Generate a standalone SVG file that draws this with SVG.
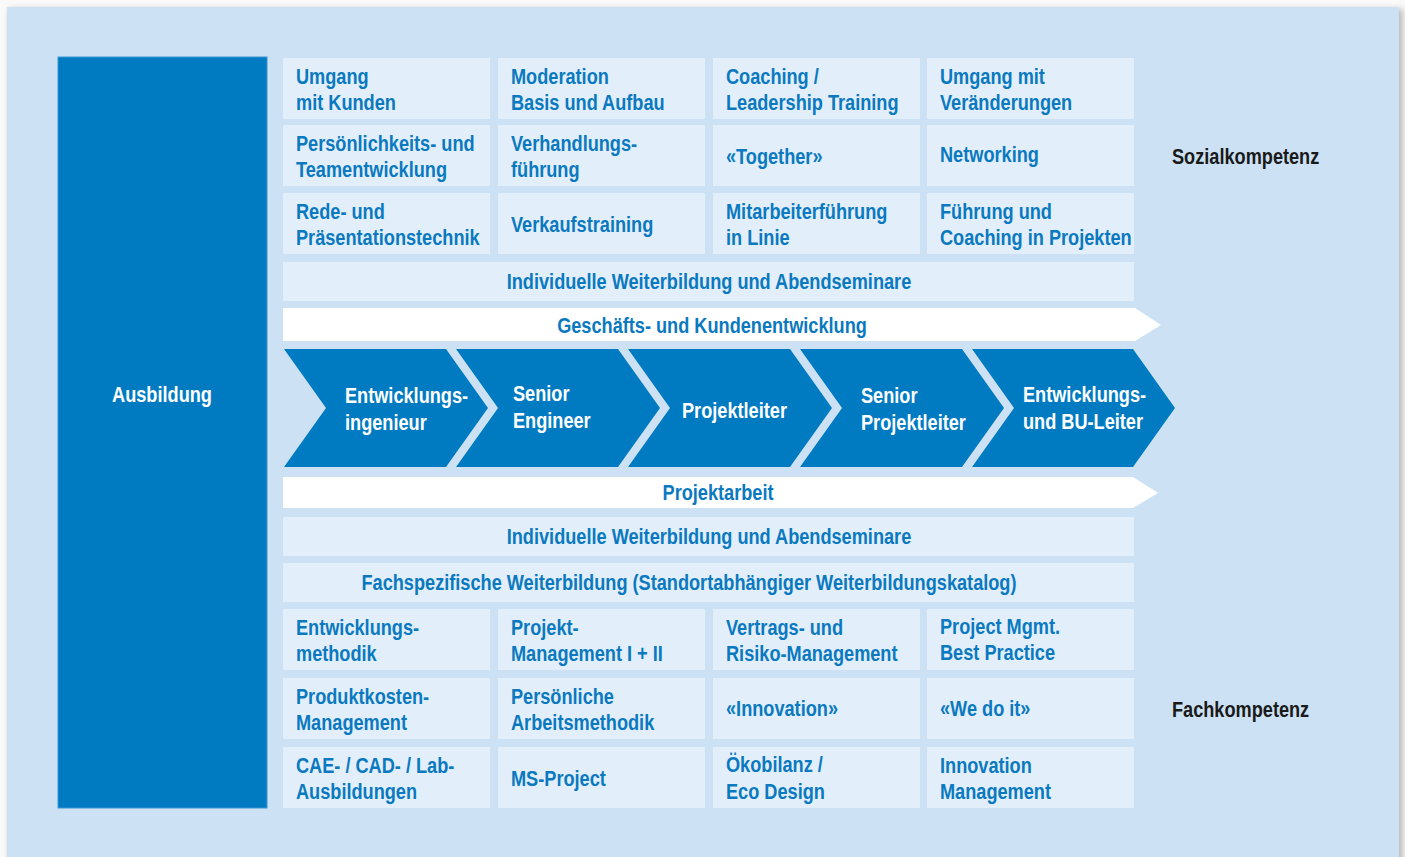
<svg xmlns="http://www.w3.org/2000/svg" width="1405" height="857" viewBox="0 0 1405 857">
<defs>
<filter id="sh" x="-5%" y="-5%" width="110%" height="110%"><feGaussianBlur stdDeviation="3"/></filter>
<style>
.t{font-family:"Liberation Sans",Arial,sans-serif;font-weight:bold;font-size:21.5px;fill:#0A79C0;transform-box:fill-box;transform-origin:0 0;transform:scaleX(0.845)}
.w{fill:#FFFFFF}
.k{fill:#1A1A1A}
.c{text-anchor:middle;transform-origin:50% 0}
.cell{fill:#E2EFFA}
.chev{fill:#007BC2}
</style>
</defs>
<rect width="1405" height="857" fill="#FAFAFA"/>
<rect x="9" y="9" width="1394" height="860" fill="#BBBBBB" filter="url(#sh)"/>
<rect x="7" y="7" width="1392" height="850" fill="#CCE2F4"/>

<g id="ausbildung">
<rect x="58" y="57" width="209" height="751" fill="#007BC2" stroke="#3A95D2" stroke-width="1"/>
<text class="t w c" x="162" y="402">Ausbildung</text>
</g>

<g id="sozial-cells">
<g id="c11"><rect class="cell" x="283" y="58" width="207" height="61"/><text class="t" x="296" y="84">Umgang</text><text class="t" x="296" y="110">mit Kunden</text></g>
<g id="c12"><rect class="cell" x="498" y="58" width="207" height="61"/><text class="t" x="511" y="84">Moderation</text><text class="t" x="511" y="110">Basis und Aufbau</text></g>
<g id="c13"><rect class="cell" x="713" y="58" width="207" height="61"/><text class="t" x="726" y="84">Coaching /</text><text class="t" x="726" y="110">Leadership Training</text></g>
<g id="c14"><rect class="cell" x="927" y="58" width="207" height="61"/><text class="t" x="940" y="84">Umgang mit</text><text class="t" x="940" y="110">Veränderungen</text></g>

<g id="c21"><rect class="cell" x="283" y="125" width="207" height="61"/><text class="t" x="296" y="151">Persönlichkeits- und</text><text class="t" x="296" y="177">Teamentwicklung</text></g>
<g id="c22"><rect class="cell" x="498" y="125" width="207" height="61"/><text class="t" x="511" y="151">Verhandlungs-</text><text class="t" x="511" y="177">führung</text></g>
<g id="c23"><rect class="cell" x="713" y="125" width="207" height="61"/><text class="t" x="726" y="164">«Together»</text></g>
<g id="c24"><rect class="cell" x="927" y="125" width="207" height="61"/><text class="t" x="940" y="162">Networking</text></g>

<g id="c31"><rect class="cell" x="283" y="193" width="207" height="61"/><text class="t" x="296" y="219">Rede- und</text><text class="t" x="296" y="245">Präsentationstechnik</text></g>
<g id="c32"><rect class="cell" x="498" y="193" width="207" height="61"/><text class="t" x="511" y="232">Verkaufstraining</text></g>
<g id="c33"><rect class="cell" x="713" y="193" width="207" height="61"/><text class="t" x="726" y="219">Mitarbeiterführung</text><text class="t" x="726" y="245">in Linie</text></g>
<g id="c34"><rect class="cell" x="927" y="193" width="207" height="61"/><text class="t" x="940" y="219">Führung und</text><text class="t" x="940" y="245">Coaching in Projekten</text></g>
</g>

<g id="bar-indiv-1"><rect class="cell" x="283" y="262" width="851" height="39"/><text class="t c" x="709" y="289">Individuelle Weiterbildung und Abendseminare</text></g>

<g id="arrow-geschaeft"><polygon points="283,308 1135,308 1161,325 1135,341 283,341" fill="#FFFFFF"/><text class="t c" x="712" y="333">Geschäfts- und Kundenentwicklung</text></g>

<g id="chevrons">
<g id="ch1"><polygon class="chev" points="284,349 446,349 488,408 446,467 284,467 326,408"/><text class="t w" x="345" y="403">Entwicklungs-</text><text class="t w" x="345" y="430">ingenieur</text></g>
<g id="ch2"><polygon class="chev" points="456,349 618,349 660,408 618,467 456,467 498,408"/><text class="t w" x="513" y="401">Senior</text><text class="t w" x="513" y="428">Engineer</text></g>
<g id="ch3"><polygon class="chev" points="628,349 790,349 832,408 790,467 628,467 670,408"/><text class="t w" x="682" y="418">Projektleiter</text></g>
<g id="ch4"><polygon class="chev" points="800,349 962,349 1004,408 962,467 800,467 842,408"/><text class="t w" x="861" y="403">Senior</text><text class="t w" x="861" y="430">Projektleiter</text></g>
<g id="ch5"><polygon class="chev" points="972,349 1133,349 1175,408 1133,467 972,467 1014,408"/><text class="t w" x="1023" y="402">Entwicklungs-</text><text class="t w" x="1023" y="429">und BU-Leiter</text></g>
</g>

<g id="arrow-projekt"><polygon points="283,477 1133,477 1158,493 1133,508 283,508" fill="#FFFFFF"/><text class="t c" x="718" y="500">Projektarbeit</text></g>

<g id="bar-indiv-2"><rect class="cell" x="283" y="517" width="851" height="39"/><text class="t c" x="709" y="544">Individuelle Weiterbildung und Abendseminare</text></g>
<g id="bar-fach"><rect class="cell" x="283" y="563" width="851" height="39"/><text class="t c" x="689" y="590">Fachspezifische Weiterbildung (Standortabhängiger Weiterbildungskatalog)</text></g>

<g id="fach-cells">
<g id="f11"><rect class="cell" x="283" y="609" width="207" height="61"/><text class="t" x="296" y="635">Entwicklungs-</text><text class="t" x="296" y="661">methodik</text></g>
<g id="f12"><rect class="cell" x="498" y="609" width="207" height="61"/><text class="t" x="511" y="635">Projekt-</text><text class="t" x="511" y="661">Management I + II</text></g>
<g id="f13"><rect class="cell" x="713" y="609" width="207" height="61"/><text class="t" x="726" y="635">Vertrags- und</text><text class="t" x="726" y="661">Risiko-Management</text></g>
<g id="f14"><rect class="cell" x="927" y="609" width="207" height="61"/><text class="t" x="940" y="634">Project Mgmt.</text><text class="t" x="940" y="660">Best Practice</text></g>

<g id="f21"><rect class="cell" x="283" y="678" width="207" height="61"/><text class="t" x="296" y="704">Produktkosten-</text><text class="t" x="296" y="730">Management</text></g>
<g id="f22"><rect class="cell" x="498" y="678" width="207" height="61"/><text class="t" x="511" y="704">Persönliche</text><text class="t" x="511" y="730">Arbeitsmethodik</text></g>
<g id="f23"><rect class="cell" x="713" y="678" width="207" height="61"/><text class="t" x="726" y="716">«Innovation»</text></g>
<g id="f24"><rect class="cell" x="927" y="678" width="207" height="61"/><text class="t" x="940" y="716">«We do it»</text></g>

<g id="f31"><rect class="cell" x="283" y="747" width="207" height="61"/><text class="t" x="296" y="773">CAE- / CAD- / Lab-</text><text class="t" x="296" y="799">Ausbildungen</text></g>
<g id="f32"><rect class="cell" x="498" y="747" width="207" height="61"/><text class="t" x="511" y="786">MS-Project</text></g>
<g id="f33"><rect class="cell" x="713" y="747" width="207" height="61"/><text class="t" x="726" y="772">Ökobilanz /</text><text class="t" x="726" y="799">Eco Design</text></g>
<g id="f34"><rect class="cell" x="927" y="747" width="207" height="61"/><text class="t" x="940" y="773">Innovation</text><text class="t" x="940" y="799">Management</text></g>
</g>

<g id="labels">
<text class="t k" x="1172" y="164">Sozialkompetenz</text>
<text class="t k" x="1172" y="717">Fachkompetenz</text>
</g>
</svg>
